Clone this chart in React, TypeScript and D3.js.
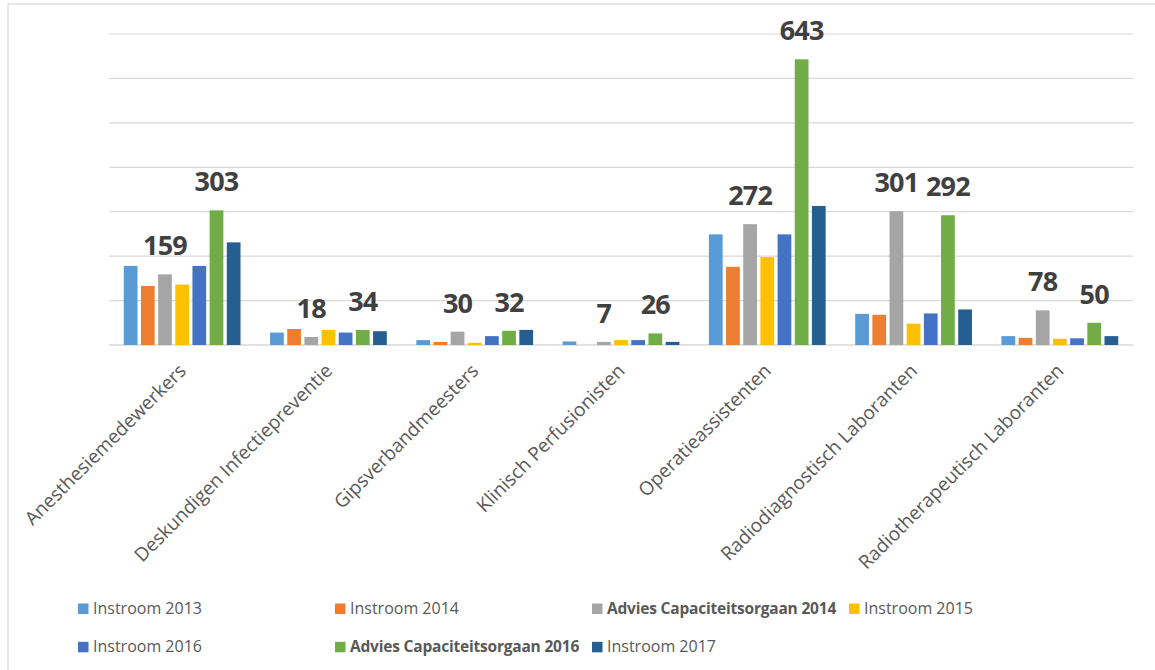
import React from "react";
import * as d3 from "d3";

const categories = [
  "Anesthesiemedewerkers",
  "Deskundigen Infectiepreventie",
  "Gipsverbandmeesters",
  "Klinisch Perfusionisten",
  "Operatieassistenten",
  "Radiodiagnostisch Laboranten",
  "Radiotherapeutisch Laboranten",
];

const seriesNames = [
  "Instroom 2013",
  "Instroom 2014",
  "Advies Capaciteitsorgaan 2014",
  "Instroom 2015",
  "Instroom 2016",
  "Advies Capaciteitsorgaan 2016",
  "Instroom 2017",
];

const instroom2013 = [178, 28, 11, 8, 249, 70, 20];
const instroom2014 = [133, 36, 7, 0, 176, 68, 16];
const advies2014 = [159, 18, 30, 7, 272, 301, 78];
const instroom2015 = [136, 34, 5, 11, 198, 48, 14];
const instroom2016 = [178, 28, 20, 11, 249, 71, 15];
const advies2016 = [303, 34, 32, 26, 643, 292, 50];
const instroom2017 = [231, 31, 34, 7, 313, 80, 20];

const seriesValues = [
  instroom2013,
  instroom2014,
  advies2014,
  instroom2015,
  instroom2016,
  advies2016,
  instroom2017,
];

const colors = ["#5B9BD5", "#ED7D31", "#A5A5A5", "#FFC000", "#4472C4", "#70AD47", "#255E91"];
const labeledSeries = [2, 5];
const boldLegend = [2, 5];

const yTicks = [0, 100, 200, 300, 400, 500, 600, 700];

const W = 1155;
const H = 670;
const plot = { left: 109, right: 1133, top: 34, bottom: 345 };

export default function App() {
  const x0 = d3.scaleBand<string>().domain(categories).range([plot.left, plot.right]).paddingInner(0).paddingOuter(0);
  const x1 = d3
    .scaleBand<string>()
    .domain(seriesNames)
    .range([0, x0.bandwidth()])
    .paddingInner(0.2)
    .paddingOuter(0.86);
  const y = d3.scaleLinear().domain([0, 700]).range([plot.bottom, plot.top]);

  const font = "'Open Sans', 'Noto Sans', sans-serif";

  return (
    <svg
      width={W}
      height={H}
      style={{ position: "absolute", left: 0, top: 0, background: "#fff" }}
      fontFamily={font}
    >
      <rect x={0} y={0} width={W} height={H} fill="#fff" />
      <rect x={8} y={4} width={W + 20} height={H + 20} fill="none" stroke="#D9D9D9" strokeWidth={1.2} />

      {yTicks.map((t) => (
        <line
          key={t}
          x1={plot.left}
          x2={plot.right}
          y1={y(t)}
          y2={y(t)}
          stroke="#D9D9D9"
          strokeWidth={t === 0 ? 1.5 : 1.2}
        />
      ))}

      {categories.map((c, ci) => (
        <g key={c} transform={`translate(${x0(c)},0)`}>
          {seriesNames.map((s, si) => {
            const v = seriesValues[si][ci];
            const bx = x1(s)!;
            return (
              <rect
                key={s}
                x={bx}
                y={y(v)}
                width={x1.bandwidth()}
                height={plot.bottom - y(v)}
                fill={colors[si]}
              />
            );
          })}
        </g>
      ))}

      {categories.map((c, ci) =>
        labeledSeries.map((si) => {
          const v = seriesValues[si][ci];
          const cx = x0(c)! + x1(seriesNames[si])! + x1.bandwidth() / 2;
          return (
            <text
              key={c + si}
              x={cx}
              y={y(v) - 19}
              textAnchor="middle"
              fontSize={27}
              fontWeight="bold"
              letterSpacing={-0.8}
              fill="#404040"
            >
              {v}
            </text>
          );
        })
      )}

      {categories.map((c) => {
        const cx = x0(c)! + x0.bandwidth() / 2 + 5;
        return (
          <text
            key={c}
            transform={`translate(${cx},372) rotate(-45)`}
            textAnchor="end"
            fontSize={19}
            fill="#595959"
          >
            {c}
          </text>
        );
      })}

      {seriesNames.map((s, i) => {
        const col = i % 4;
        const row = Math.floor(i / 4);
        const lx = 78 + col * 257;
        const ly = 603.5 + row * 38.3;
        const bold = boldLegend.includes(i);
        return (
          <g key={s}>
            <rect x={lx} y={ly} width={10.5} height={10.5} fill={colors[i]} />
            <text
              x={lx + 15}
              y={ly + 10.2}
              fontSize={bold ? 15.5 : 16}
              fontWeight={bold ? "bold" : "normal"}
              letterSpacing={bold ? -0.2 : 0}
              fill="#595959"
            >
              {s}
            </text>
          </g>
        );
      })}
    </svg>
  );
}
